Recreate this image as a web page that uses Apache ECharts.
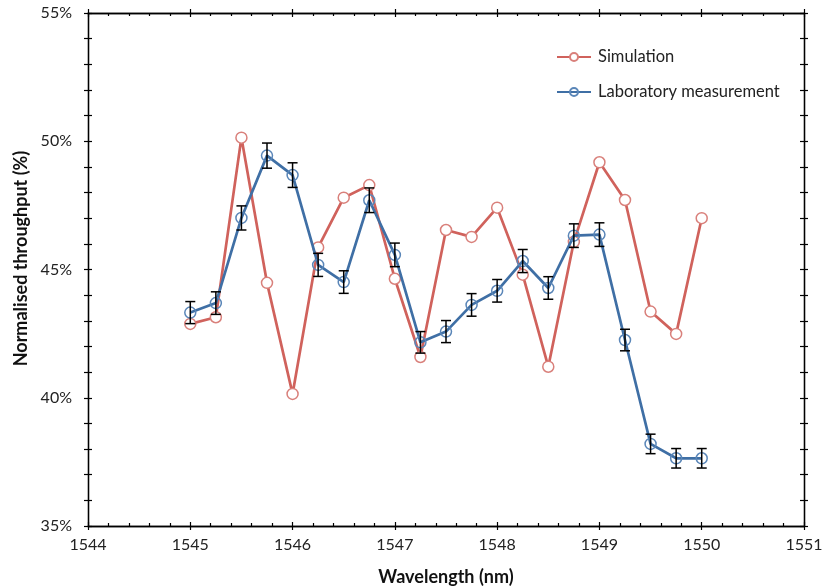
<!DOCTYPE html>
<html>
<head>
<meta charset="utf-8">
<script src="https://cdn.jsdelivr.net/npm/echarts@6/dist/echarts.min.js"></script>
<style>html,body{margin:0;padding:0;background:#fff}#c{width:822px;height:588px}</style>
</head>
<body>
<div id="c"></div>
<script>
const wavelengths = [1545, 1545.25, 1545.5, 1545.75, 1546, 1546.25, 1546.5, 1546.75, 1547, 1547.25, 1547.5, 1547.75, 1548, 1548.25, 1548.5, 1548.75, 1549, 1549.25, 1549.5, 1549.75, 1550];
const simulation = [42.88, 43.14, 50.14, 44.48, 40.15, 45.86, 47.8, 48.29, 44.64, 41.59, 46.54, 46.27, 47.41, 44.8, 41.21, 46.08, 49.18, 47.71, 43.36, 42.49, 47.0];
const laboratory = [43.32, 43.69, 47.01, 49.44, 48.68, 45.18, 44.51, 47.7, 45.57, 42.16, 42.58, 43.62, 44.17, 45.33, 44.28, 46.32, 46.36, 42.25, 38.2, 37.64, 37.64];
const labError = [0.43, 0.44, 0.47, 0.49, 0.48, 0.45, 0.44, 0.48, 0.46, 0.42, 0.43, 0.44, 0.44, 0.45, 0.44, 0.46, 0.46, 0.42, 0.38, 0.38, 0.38];
const seriesNames = ['Simulation', 'Laboratory measurement'];
const xTicks = {min: 1544, max: 1551, interval: 1};
const yTicks = {min: 35, max: 55, interval: 5};

const FONT = 'Lato, "Open Sans", sans-serif';
const RED = '#d0625c';
const BLUE = '#3f6fa5';
const gridRect = {left: 88, right: 18, top: 13, bottom: 62, containLabel: false, outerBoundsMode: 'none'};

function xAx(gridIndex, position, opts) {
  return Object.assign({
    type: 'value', gridIndex, position,
    min: xTicks.min, max: xTicks.max, interval: xTicks.interval,
    axisLine: {show: true, onZero: false, lineStyle: {color: '#000', width: 1.3}},
    axisLabel: {show: false},
    splitLine: {show: false},
    axisTick: {show: true, length: 4, inside: false, lineStyle: {color: '#000', width: 1.2}},
    minorTick: {show: false}
  }, opts);
}
function yAx(gridIndex, position, opts) {
  return Object.assign({
    type: 'value', gridIndex, position,
    min: yTicks.min, max: yTicks.max, interval: yTicks.interval,
    axisLine: {show: true, onZero: false, lineStyle: {color: '#000', width: 1.3}},
    axisLabel: {show: false},
    splitLine: {show: false},
    axisTick: {show: true, length: 4, inside: false, lineStyle: {color: '#000', width: 1.2}},
    minorTick: {show: true, splitNumber: 5, length: 4, lineStyle: {color: '#000', width: 1.2}}
  }, opts);
}

const minorX = {show: true, splitNumber: 5, length: 3, lineStyle: {color: '#000', width: 1.2}};
const insideTick = {show: true, length: 4, inside: true, lineStyle: {color: '#000', width: 1.2}};

const option = {
  animation: false,
  backgroundColor: '#fff',
  grid: [Object.assign({}, gridRect), Object.assign({}, gridRect)],
  xAxis: [
    xAx(0, 'bottom', {
      axisLabel: {show: true, color: '#222', fontFamily: FONT, fontSize: 16, margin: 11, formatter: v => String(v)},
      name: 'Wavelength (nm)', nameLocation: 'middle', nameGap: 42,
      nameTextStyle: {color: '#111', fontFamily: FONT, fontSize: 18, fontWeight: 'bold'}
    }),
    xAx(0, 'top', {axisTick: insideTick, minorTick: minorX}),
    xAx(1, 'bottom', {axisTick: insideTick, minorTick: minorX}),
    xAx(1, 'top', {})
  ],
  yAxis: [
    yAx(0, 'left', {
      axisLabel: {show: true, color: '#222', fontFamily: FONT, fontSize: 16, margin: 16, formatter: v => v + '%'},
      name: 'Normalised throughput (%)', nameLocation: 'middle', nameGap: 56,
      nameTextStyle: {color: '#111', fontFamily: FONT, fontSize: 18, fontWeight: 'bold', padding: [0, 0, 0, 22]}
    }),
    yAx(0, 'right', {axisTick: insideTick}),
    yAx(1, 'left', {axisTick: insideTick}),
    yAx(1, 'right', {})
  ],
  legend: {
    orient: 'vertical', left: 551, top: 43, itemGap: 17,
    itemWidth: 34, itemHeight: 10,
    textStyle: {color: '#222', fontFamily: FONT, fontSize: 16.5, lineHeight: 18, padding: [0, 0, 0, 2]},
    data: seriesNames
  },
  series: [
    {
      name: seriesNames[0], type: 'line', xAxisIndex: 0, yAxisIndex: 0,
      data: wavelengths.map((w, i) => [w, simulation[i]]),
      symbol: 'circle', symbolSize: 11, showAllSymbol: true,
      lineStyle: {color: RED, width: 2.7},
      itemStyle: {color: '#fff', borderColor: '#d9807b', borderWidth: 1.5},
      z: 2
    },
    {
      name: seriesNames[1], type: 'line', xAxisIndex: 0, yAxisIndex: 0,
      data: wavelengths.map((w, i) => [w, laboratory[i]]),
      symbol: 'circle', symbolSize: 11, showAllSymbol: true,
      lineStyle: {color: BLUE, width: 2.7},
      itemStyle: {color: 'rgba(255,255,255,0)', borderColor: '#5a86b8', borderWidth: 1.5},
      z: 3
    },
    {
      name: 'error', type: 'custom', xAxisIndex: 0, yAxisIndex: 0,
      data: wavelengths.map((w, i) => [w, laboratory[i] - labError[i], laboratory[i] + labError[i]]),
      renderItem: function (params, api) {
        const lo = api.coord([api.value(0), api.value(1)]);
        const hi = api.coord([api.value(0), api.value(2)]);
        const hw = 5;
        const style = {stroke: '#000', lineWidth: 1.5, fill: null};
        return {
          type: 'group',
          children: [
            {type: 'line', shape: {x1: lo[0], y1: lo[1], x2: hi[0], y2: hi[1]}, style},
            {type: 'line', shape: {x1: lo[0] - hw, y1: lo[1], x2: lo[0] + hw, y2: lo[1]}, style},
            {type: 'line', shape: {x1: hi[0] - hw, y1: hi[1], x2: hi[0] + hw, y2: hi[1]}, style}
          ]
        };
      },
      z: 4,
      silent: true
    }
  ]
};

const chart = echarts.init(document.getElementById('c'), null, {renderer: 'canvas'});
chart.setOption(option);
</script>
</body>
</html>
